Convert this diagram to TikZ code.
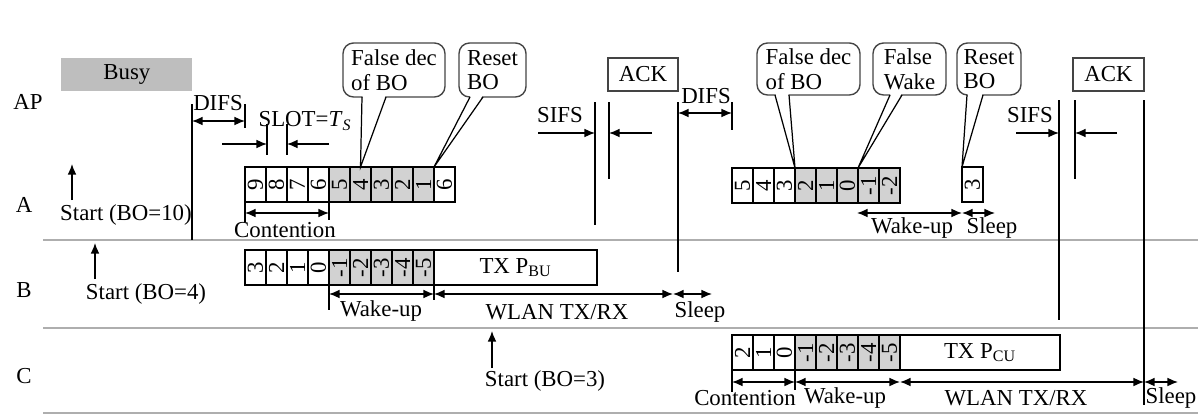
\documentclass[tikz,border=0pt]{standalone}
\usepackage{fontspec}
\usepackage{graphicx}
\setmainfont{Liberation Serif}
\usetikzlibrary{arrows.meta,calc}
\definecolor{lanegray}{HTML}{AEAEAE}
\definecolor{cellgray}{HTML}{D2D2D2}
\definecolor{busygray}{HTML}{BEBEBE}
\definecolor{boxgray}{HTML}{444444}
\tikzset{
  lane/.style={draw=lanegray, line width=1.1pt},
  vline/.style={draw, line width=0.7pt},
  dim/.style={{Latex[length=6pt,width=5pt]}-{Latex[length=6pt,width=5pt]}, line width=0.8pt},
  pointarrow/.style={-{Latex[length=6pt,width=5pt]}, line width=0.8pt},
  cellbox/.style={draw, line width=0.6pt, minimum width=0.42cm, minimum height=0.7cm, inner sep=0pt, outer sep=0pt, anchor=north west, font=\fontsize{13}{13}\selectfont},
  greycell/.style={cellbox, fill=cellgray},
  txbox/.style={draw, line width=0.6pt, minimum height=0.7cm, inner sep=0pt, outer sep=0pt, anchor=north west},
  callbox/.style={draw=boxgray, line width=0.8pt, rounded corners=6pt, align=left, inner sep=2pt, outer sep=0pt, anchor=north west, font=\fontsize{13}{14}\selectfont},
  ackbox/.style={draw=boxgray, line width=0.8pt, minimum height=0.66cm, inner sep=0pt, outer sep=0pt, anchor=north west},
  lbl/.style={inner sep=0pt},
}
\newcommand{\rt}[1]{\rotatebox{90}{#1}}
\begin{document}
\begin{tikzpicture}[x=0.02cm, y=-0.02cm, font=\fontsize{13}{15}\selectfont]
\useasboundingbox (0,0) rectangle (1202,416);

% lanes
\coordinate (l1a) at (43,240); \coordinate (l1b) at (1198,240);
\coordinate (l2a) at (43,328); \coordinate (l2b) at (1198,328);
\coordinate (l3a) at (43,413); \coordinate (l3b) at (1198,413);
\draw[lane] (l1a) -- (l1b);
\draw[lane] (l2a) -- (l2b);
\draw[lane] (l3a) -- (l3b);

% row labels
\node[lbl] (lAP) at (28,102) {AP};
\node[lbl] (lA) at (24,205) {A};
\node[lbl] (lB) at (24,290) {B};
\node[lbl] (lC) at (24,376) {C};

% Busy
\node[fill=busygray, minimum width=2.62cm, minimum height=0.66cm, inner sep=0pt, anchor=north west] (busy) at (61,58) {Busy};

% DIFS 1
\coordinate (d1a) at (192,104); \coordinate (d1b) at (192,240);
\coordinate (d1c) at (245,104); \coordinate (d1d) at (245,128);
\draw[vline] (d1a) -- (d1b);
\draw[vline] (d1c) -- (d1d);
\coordinate (d1l) at (192,121); \coordinate (d1r) at (245,121);
\draw[dim] (d1l) -- (d1r);
\node[lbl] (difs1) at (218,103) {DIFS};

% SLOT
\node[lbl] (slot) at (305,121) {SLOT=\textit{T}\textsubscript{\textit{S}}};
\coordinate (s1a) at (267,124); \coordinate (s1b) at (267,155);
\coordinate (s2a) at (287,124); \coordinate (s2b) at (287,155);
\draw[vline] (s1a) -- (s1b);
\draw[vline] (s2a) -- (s2b);
\coordinate (s1f) at (222,144); \coordinate (s1t) at (267,144);
\coordinate (s2f) at (329,144); \coordinate (s2t) at (287,144);
\draw[pointarrow] (s1f) -- (s1t);
\draw[pointarrow] (s2f) -- (s2t);

% Row A group 1
\foreach \t [count=\i] in {9,8,7,6} {
  \node[cellbox] (a\i) at ({245+21*(\i-1)},167) {\rt{\t}};
}
\foreach \t [count=\i from 5] in {5,4,3,2,1} {
  \node[greycell] (a\i) at ({245+21*(\i-1)},167) {\rt{\t}};
}
\node[cellbox] (a10) at (434,167) {\rt{6}};

% Row A group 2
\foreach \t [count=\i] in {5,4,3} {
  \node[cellbox] (g\i) at ({732+21*(\i-1)},168) {\rt{\t}};
}
\foreach \t [count=\i from 4] in {2,1,0,-1,-2} {
  \node[greycell] (g\i) at ({732+21*(\i-1)},168) {\rt{\t}};
}
\node[cellbox] (g9) at (962,167) {\rt{3}};

% Row B
\foreach \t [count=\i] in {3,2,1,0} {
  \node[cellbox] (b\i) at ({245+21*(\i-1)},250) {\rt{\t}};
}
\foreach \t [count=\i from 5] in {-1,-2,-3,-4,-5} {
  \node[greycell] (b\i) at ({245+21*(\i-1)},250) {\rt{\t}};
}
\node[txbox, minimum width=3.26cm] (txb) at (434,250) {TX P\textsubscript{BU}};

% Row C
\foreach \t [count=\i] in {2,1,0} {
  \node[cellbox] (c\i) at ({732+21*(\i-1)},335) {\rt{\t}};
}
\foreach \t [count=\i from 4] in {-1,-2,-3,-4,-5} {
  \node[greycell] (c\i) at ({732+21*(\i-1)},335) {\rt{\t}};
}
\node[txbox, minimum width=3.2cm] (txc) at (900,335) {TX P\textsubscript{CU}};

% Callouts
\node[callbox, minimum width=2.04cm, minimum height=1.08cm] (cb1) at (343,43) {False dec\\of BO};
\node[callbox, minimum width=1.34cm, minimum height=1.08cm] (cb2) at (459,43) {Reset\\BO};
\node[callbox, minimum width=2.06cm, minimum height=1.04cm] (cb3) at (757,43) {False dec\\of BO};
\node[callbox, minimum width=1.46cm, minimum height=1.04cm] (cb4) at (873,43) {False\\Wake};
\node[callbox, minimum width=1.28cm, minimum height=1.04cm] (cb5) at (957,43) {Reset\\BO};

\coordinate (p1a) at (362,97); \coordinate (p1b) at (386,97);
\coordinate (p2a) at (470,97); \coordinate (p2b) at (483,97);
\coordinate (p3a) at (775,95); \coordinate (p3b) at (789,95);
\coordinate (p4a) at (890,95); \coordinate (p4b) at (902,95);
\coordinate (p5a) at (967,95); \coordinate (p5b) at (983,95);
\foreach \p/\t in {p1/a6.north, p2/a10.north west, p3/g4.north west, p4/g7.north west, p5/g9.north west} {
  \fill[white] ($(\p a)+(0.6,-1.2)$) -- (\t) -- ($(\p b)+(-0.6,-1.2)$) -- cycle;
  \draw[line width=0.7pt] (\p a) -- (\t) -- (\p b);
}

% ACK boxes
\node[ackbox, minimum width=1.4cm] (ack1) at (608,58) {ACK};
\node[ackbox, minimum width=1.42cm] (ack2) at (1073,58) {ACK};

% SIFS 1
\node[lbl] (sifs1) at (560,115) {SIFS};
\coordinate (sa1) at (595,102); \coordinate (sa2) at (595,225);
\coordinate (sb1) at (609,102); \coordinate (sb2) at (609,179);
\draw[vline] (sa1) -- (sa2);
\draw[vline] (sb1) -- (sb2);
\coordinate (sf1) at (538,133); \coordinate (st1) at (595,133);
\coordinate (sf2) at (652,133); \coordinate (st2) at (609,133);
\draw[pointarrow] (sf1) -- (st1);
\draw[pointarrow] (sf2) -- (st2);

% DIFS 2
\coordinate (e1a) at (678,102); \coordinate (e1b) at (678,272);
\coordinate (e2a) at (732,102); \coordinate (e2b) at (732,130);
\draw[vline] (e1a) -- (e1b);
\draw[vline] (e2a) -- (e2b);
\coordinate (e1m) at (678,113); \coordinate (e2m) at (732,113);
\draw[dim] (e1m) -- (e2m);
\node[lbl] (difs2) at (706,96) {DIFS};

% SIFS 2
\node[lbl] (sifs2) at (1030,115) {SIFS};
\coordinate (ta1) at (1059,100); \coordinate (ta2) at (1059,320);
\coordinate (tb1) at (1075,100); \coordinate (tb2) at (1075,179);
\coordinate (tc1) at (1144,100); \coordinate (tc2) at (1144,405);
\draw[vline] (ta1) -- (ta2);
\draw[vline] (tb1) -- (tb2);
\draw[vline] (tc1) -- (tc2);
\coordinate (tf1) at (1016,133); \coordinate (tt1) at (1059,133);
\coordinate (tf2) at (1117,133); \coordinate (tt2) at (1075,133);
\draw[pointarrow] (tf1) -- (tt1);
\draw[pointarrow] (tf2) -- (tt2);

% Row A annotations
\coordinate (ca1) at (245,203); \coordinate (ca2) at (245,222);
\coordinate (cb1t) at (329,203); \coordinate (cb2t) at (329,220);
\draw[vline] (ca1) -- (ca2);
\draw[vline] (cb1t) -- (cb2t);
\coordinate (cal) at (245,213); \coordinate (car) at (329,213);
\draw[dim] (cal) -- (car);
\node[lbl] (contA) at (285,230) {Contention};

\coordinate (wa1) at (857,213); \coordinate (wa2) at (962,213); \coordinate (wa3) at (995,213);
\draw[dim] (wa1) -- (wa2);
\draw[dim] (wa2) -- (wa3);
\node[lbl] (wakeA) at (912,228) {Wake-up};
\node[lbl] (sleepA) at (992,228) {Sleep};

\coordinate (stA1) at (72,200); \coordinate (stA2) at (72,164);
\draw[pointarrow] (stA1) -- (stA2);
\node[lbl] (startA) at (126,215) {Start (BO=10)};

% Row B annotations
\coordinate (stB1) at (95,279); \coordinate (stB2) at (95,243);
\draw[pointarrow] (stB1) -- (stB2);
\node[lbl] (startB) at (146,294) {Start (BO=4)};
\coordinate (wb0) at (329,285); \coordinate (wb0b) at (329,310);
\coordinate (wb1t) at (434,285); \coordinate (wb1b) at (434,300);
\draw[vline] (wb0) -- (wb0b);
\draw[vline] (wb1t) -- (wb1b);
\coordinate (wb1) at (329,294); \coordinate (wb2) at (434,294);
\coordinate (wb3) at (673,294); \coordinate (wb4) at (712,294);
\draw[dim] (wb1) -- (wb2);
\draw[dim] (wb2) -- (wb3);
\draw[dim] (wb3) -- (wb4);
\node[lbl] (wakeB) at (381,311) {Wake-up};
\node[lbl] (wlanB) at (557,312) {WLAN TX/RX};
\node[lbl] (sleepB) at (700,312) {Sleep};

% Row C annotations
\coordinate (stC1) at (492,368); \coordinate (stC2) at (492,331);
\draw[pointarrow] (stC1) -- (stC2);
\node[lbl] (startC) at (545,381) {Start (BO=3)};
\coordinate (wc0) at (732,370); \coordinate (wc0b) at (732,392);
\coordinate (wc1t) at (795,370); \coordinate (wc1b) at (795,390);
\draw[vline] (wc0) -- (wc0b);
\draw[vline] (wc1t) -- (wc1b);
\coordinate (wc1) at (732,382); \coordinate (wc2) at (795,382);
\coordinate (wc3) at (900,382); \coordinate (wc4) at (1144,382);
\coordinate (wc5) at (1178,382);
\draw[dim] (wc1) -- (wc2);
\draw[dim] (wc2) -- (wc3);
\draw[dim] (wc3) -- (wc4);
\draw[dim] (wc4) -- (wc5);
\node[lbl] (contC) at (745,398) {Contention};
\node[lbl] (wakeC) at (845,398) {Wake-up};
\node[lbl] (wlanC) at (1016,398) {WLAN TX/RX};
\node[lbl] (sleepC) at (1171,398) {Sleep};
\end{tikzpicture}
\end{document}
